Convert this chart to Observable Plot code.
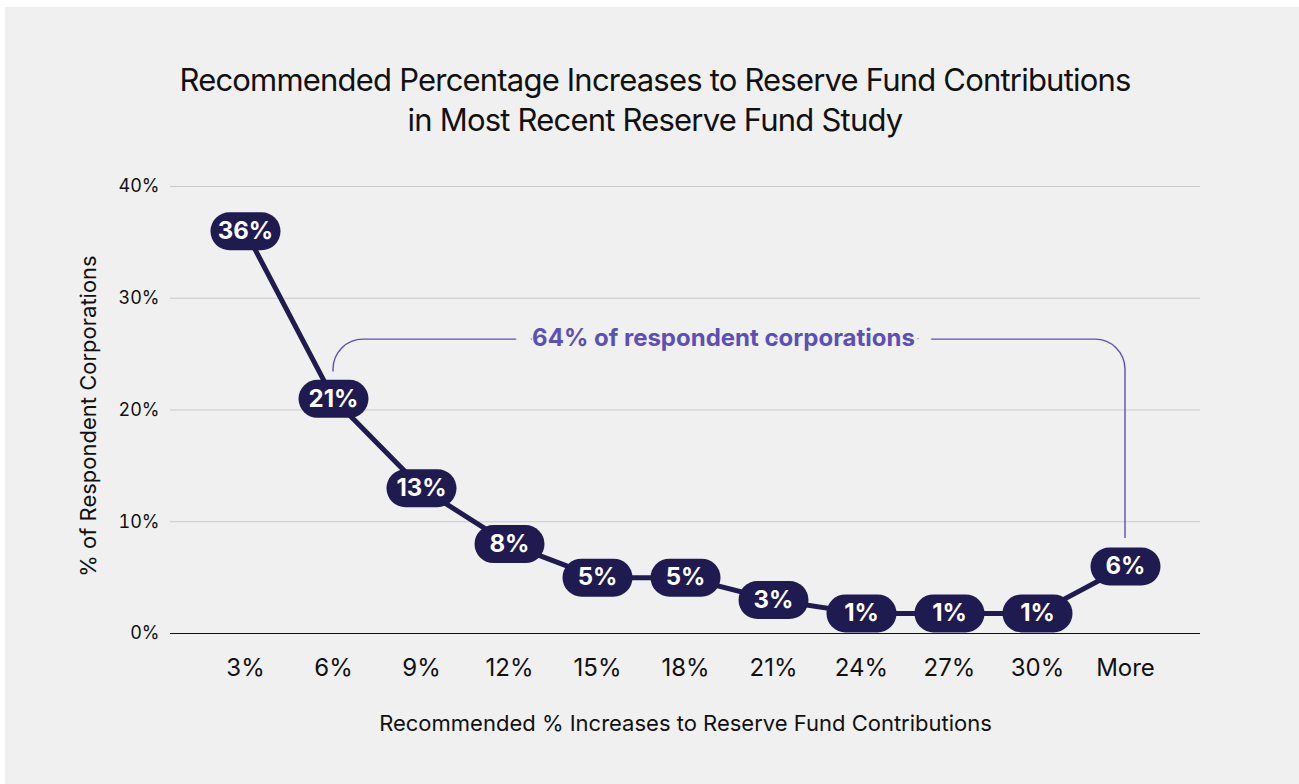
<!DOCTYPE html>
<html><head><meta charset="utf-8">
<script src="https://cdn.jsdelivr.net/npm/d3@7"></script>
<script src="https://cdn.jsdelivr.net/npm/@observablehq/plot@0.6"></script>
<style>
html,body{margin:0;padding:0;background:#fff;}
#panel{position:absolute;left:5px;top:7px;width:1294px;height:777px;background:#f0f0f0;font-family:Inter,"Liberation Sans",sans-serif;overflow:hidden;}
#title{position:absolute;left:3px;width:1294px;top:53px;text-align:center;font-size:31px;line-height:40px;color:#111;letter-spacing:-0.8px;}
#chart{position:absolute;left:0;top:143px;}
</style></head>
<body><div id="panel"><div id="title">Recommended Percentage Increases to Reserve Fund Contributions<br>in Most Recent Reserve Fund Study</div><div id="chart"></div></div>
<script>
// ---- data ----
const categories = ["3%","6%","9%","12%","15%","18%","21%","24%","27%","30%","More"];
const shares = [36, 21, 13, 8, 5, 5, 3, 1.8, 1.8, 1.8, 6];
const shareLabels = ["36%","21%","13%","8%","5%","5%","3%","1%","1%","1%","6%"];
const yTicks = [0, 10, 20, 30, 40];
const yTickLabels = ["0%","10%","20%","30%","40%"];
const annotationText = "64% of respondent corporations";
const annotationFrom = "6%", annotationTo = "More";
const annotationLevel = 26.3;
const annotationEnds = [23.4, 8.5];
const xTitle = "Recommended % Increases to Reserve Fund Contributions";
const yTitle = "% of Respondent Corporations";

const navy = "#1f1a4f";
const purple = "#5c4fb6";
const data = categories.map((c, i) => ({cat: c, v: shares[i], label: shareLabels[i]}));

const pill = {
  draw(ctx) {
    const hw = 35, r = 19;
    ctx.moveTo(-hw + r, -r);
    ctx.lineTo(hw - r, -r);
    ctx.arc(hw - r, 0, r, -Math.PI / 2, Math.PI / 2);
    ctx.lineTo(-hw + r, r);
    ctx.arc(-hw + r, 0, r, Math.PI / 2, 3 * Math.PI / 2);
    ctx.closePath();
  }
};

function bracket(index, scales) {
  const x0 = scales.x(annotationFrom), x1 = scales.x(annotationTo);
  const yb = scales.y(annotationLevel), yl = scales.y(annotationEnds[0]), yr = scales.y(annotationEnds[1]);
  const r = 30;
  const p = d3.path();
  p.moveTo(x0, yl);
  p.arcTo(x0, yb, x0 + r, yb, r);
  p.lineTo(x1 - r, yb);
  p.arcTo(x1, yb, x1, yb + r, r);
  p.lineTo(x1, yr);
  return d3.create("svg:path").attr("d", p.toString()).attr("fill", "none")
    .attr("stroke", purple).attr("stroke-width", 1.4).node();
}

const chart = Plot.plot({
  width: 1294,
  height: 610,
  marginLeft: 165,
  marginRight: 99,
  marginTop: 36,
  marginBottom: 127,
  style: {background: "transparent", fontFamily: "Inter, 'Liberation Sans', sans-serif", color: "#111", overflow: "visible"},
  x: {type: "point", domain: categories, padding: 0.83},
  y: {domain: [0, 40]},
  marks: [
    Plot.ruleY(yTicks.filter(d => d > 0), {stroke: "#c9c9c9", strokeWidth: 1}),
    Plot.ruleY([0], {stroke: "#111", strokeWidth: 1.2}),
    Plot.axisY({ticks: yTicks, tickFormat: (d) => yTickLabels[yTicks.indexOf(d)], tickSize: 0, tickPadding: 11, fontSize: 18, label: null}),
    Plot.axisX({tickSize: 0, tickPadding: 25, fontSize: 24, label: null}),
    bracket,
    Plot.text([annotationText], {x: () => "18%", y: () => annotationLevel, dx: 38, dy: -1, fill: purple, fontWeight: 700, fontSize: 24,
      stroke: "#f0f0f0", strokeWidth: 34, strokeLinejoin: "round", letterSpacing: "-0.2px"}),
    Plot.line(data, {x: "cat", y: "v", stroke: navy, strokeWidth: 5}),
    Plot.dot(data, {x: "cat", y: "v", symbol: pill, fill: navy, r: 10}),
    Plot.text(data, {x: "cat", y: "v", text: "label", fill: "white", fontWeight: 700, fontSize: 24, letterSpacing: "-0.5px"}),
    Plot.text([xTitle], {frameAnchor: "bottom", dy: 97, fontSize: 22, fill: "#111", letterSpacing: "-0.6px"}),
    Plot.text([yTitle], {frameAnchor: "left", textAnchor: "middle", rotate: -90, dx: -82, dy: 6, fontSize: 22, fill: "#111", letterSpacing: "-0.5px"})
  ]
});
document.getElementById("chart").appendChild(chart);
</script>
</body></html>
